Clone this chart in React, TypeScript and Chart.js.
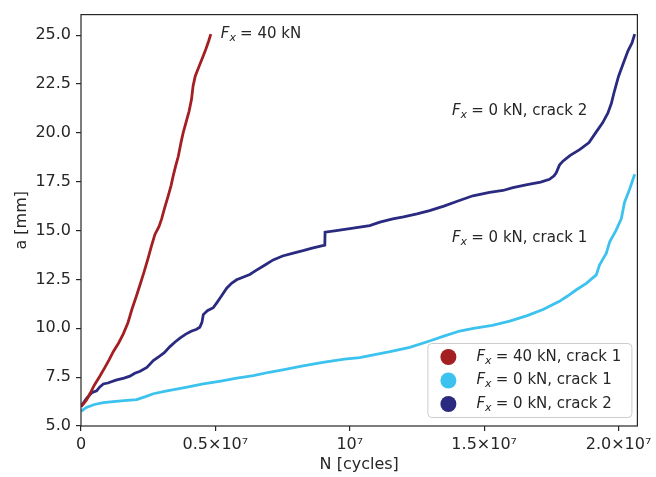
import React, { useEffect, useRef } from "react";
import { Chart, registerables } from "chart.js";
Chart.register(...registerables);

// N in millions of cycles, a in mm
const N_40KN_C1 = [0, 0.1, 0.21, 0.35, 0.5, 0.7, 0.89, 1.05, 1.2, 1.4, 1.57, 1.75, 1.9, 2.05, 2.19, 2.35, 2.5, 2.62, 2.75, 2.9, 3.0, 3.12, 3.25, 3.35, 3.43, 3.52, 3.62, 3.72, 3.8, 3.92, 4.02, 4.11, 4.17, 4.25, 4.35, 4.45, 4.55, 4.65, 4.75, 4.83];
const A_40KN_C1 = [6.0, 6.15, 6.35, 6.7, 7.1, 7.55, 8.0, 8.4, 8.8, 9.25, 9.7, 10.3, 11.0, 11.6, 12.2, 12.9, 13.6, 14.2, 14.8, 15.2, 15.6, 16.2, 16.8, 17.3, 17.8, 18.3, 18.8, 19.5, 20.0, 20.6, 21.1, 21.7, 22.4, 22.9, 23.25, 23.6, 23.95, 24.3, 24.7, 25.05];

const N_0KN_C1 = [0, 0.2, 0.5, 0.83, 1.2, 1.6, 2.07, 2.4, 2.69, 3.2, 3.9, 4.55, 5.2, 5.8, 6.41, 7.0, 7.6, 8.26, 9.0, 9.8, 10.37, 10.74, 11.5, 12.23, 12.97, 13.5, 14.09, 14.6, 15.3, 15.95, 16.6, 17.19, 17.8, 18.1, 18.43, 18.8, 19.17, 19.29, 19.4, 19.54, 19.67, 19.9, 20.1, 20.22, 20.41, 20.6];
const A_0KN_C1 = [5.75, 5.95, 6.1, 6.2, 6.25, 6.3, 6.35, 6.5, 6.65, 6.8, 6.98, 7.15, 7.3, 7.45, 7.58, 7.75, 7.9, 8.08, 8.25, 8.42, 8.5, 8.6, 8.8, 9.02, 9.35, 9.6, 9.86, 10.0, 10.15, 10.37, 10.65, 10.96, 11.38, 11.65, 11.97, 12.3, 12.73, 13.24, 13.5, 13.83, 14.42, 15.0, 15.6, 16.44, 17.11, 17.88];

const N_0KN_C2 = [0, 0.2, 0.4, 0.58, 0.7, 0.83, 1.0, 1.3, 1.6, 1.82, 2.0, 2.2, 2.45, 2.69, 2.9, 3.1, 3.3, 3.5, 3.68, 3.9, 4.1, 4.3, 4.42, 4.5, 4.55, 4.7, 4.92, 5.05, 5.2, 5.42, 5.6, 5.79, 6.0, 6.28, 6.5, 6.8, 7.15, 7.5, 7.9, 8.26, 8.6, 9.07, 9.08, 9.5, 10.0, 10.74, 11.12, 11.6, 12.0, 12.5, 12.97, 13.5, 14.0, 14.58, 15.2, 15.7, 16.07, 16.6, 17.1, 17.43, 17.6, 17.68, 17.8, 17.93, 18.2, 18.55, 18.9, 19.17, 19.4, 19.6, 19.73, 19.82, 19.92, 20.0, 20.16, 20.35, 20.5, 20.6];
const A_0KN_C2 = [6.0, 6.4, 6.7, 6.8, 7.0, 7.15, 7.2, 7.35, 7.45, 7.55, 7.7, 7.8, 8.0, 8.35, 8.55, 8.75, 9.05, 9.3, 9.5, 9.7, 9.85, 9.95, 10.05, 10.3, 10.7, 10.9, 11.05, 11.3, 11.6, 12.05, 12.3, 12.48, 12.6, 12.75, 12.95, 13.2, 13.5, 13.7, 13.85, 13.97, 14.1, 14.25, 14.92, 15.0, 15.1, 15.25, 15.43, 15.6, 15.7, 15.85, 16.02, 16.25, 16.5, 16.78, 16.95, 17.05, 17.2, 17.35, 17.48, 17.62, 17.8, 17.96, 18.35, 18.55, 18.85, 19.14, 19.5, 20.05, 20.5, 21.0, 21.5, 22.0, 22.5, 22.9, 23.5, 24.2, 24.6, 25.05];

const SERIES_LABELS = ["= 40 kN, crack 1", "= 0 kN, crack 1", "= 0 kN, crack 2"];
const SERIES_COLORS = ["#a31f22", "#3cc2ee", "#2a2a80"];

const X_TICKS = [0, 5e6, 1e7, 1.5e7, 2e7];
const X_TICK_LABELS = ["0", "0.5×10⁷", "10⁷", "1.5×10⁷", "2.0×10⁷"];
const Y_TICKS = [5, 7.5, 10, 12.5, 15, 17.5, 20, 22.5, 25];

const ANNOTATIONS = [
  { text: "= 40 kN", n: 5.2e6, a: 25.05 },
  { text: "= 0 kN, crack 2", n: 13.8e6, a: 21.1 },
  { text: "= 0 kN, crack 1", n: 13.8e6, a: 14.6 },
];

const FONT = '"DejaVu Sans", sans-serif';
const TEXT_COLOR = "#262626";

function drawFx(ctx: CanvasRenderingContext2D, x: number, y: number, rest: string, size: number) {
  ctx.textBaseline = "middle";
  ctx.textAlign = "left";
  ctx.fillStyle = TEXT_COLOR;
  ctx.font = `italic ${size}px ${FONT}`;
  ctx.fillText("F", x, y);
  let cx = x + ctx.measureText("F").width;
  ctx.font = `italic ${Math.round(size * 0.7)}px ${FONT}`;
  ctx.fillText("x", cx, y + size * 0.25);
  cx += ctx.measureText("x").width + size * 0.28;
  ctx.font = `${size}px ${FONT}`;
  ctx.fillText(rest, cx, y);
}

const overlay = {
  id: "overlay",
  afterDraw(chart: any) {
    const { ctx, chartArea } = chart;
    const { left, right, top, bottom } = chartArea;
    const xs = chart.scales.x;
    const ys = chart.scales.y;
    ctx.save();
    // frame
    ctx.strokeStyle = TEXT_COLOR;
    ctx.lineWidth = 1.2;
    ctx.strokeRect(left, top, right - left, bottom - top);

    // annotations
    ANNOTATIONS.forEach((an) => {
      drawFx(ctx, xs.getPixelForValue(an.n), ys.getPixelForValue(an.a), an.text, 15);
    });

    // legend
    const lx = right - 210, ly = bottom - 83, lw = 204, lh = 74;
    ctx.beginPath();
    (ctx as any).roundRect(lx + 0.5, ly + 0.5, lw, lh, 4);
    ctx.fillStyle = "rgba(255,255,255,0.8)";
    ctx.fill();
    ctx.strokeStyle = "#cccccc";
    ctx.lineWidth = 1;
    ctx.stroke();
    SERIES_LABELS.forEach((lab, i) => {
      const cy = ly + 14 + i * 23.5;
      ctx.beginPath();
      ctx.arc(lx + 21, cy, 8, 0, Math.PI * 2);
      ctx.fillStyle = SERIES_COLORS[i];
      ctx.fill();
      drawFx(ctx, lx + 49, cy, lab, 15);
    });
    ctx.restore();
  },
};

function mk(ns: number[], as: number[]) {
  return ns.map((n, i) => ({ x: n * 1e6, y: as[i] }));
}

export default function App() {
  const ref = useRef<HTMLCanvasElement>(null);
  useEffect(() => {
    if (!ref.current) return;
    Chart.defaults.font.family = FONT;
    const chart = new Chart(ref.current, {
      type: "scatter",
      data: {
        datasets: [
          { label: SERIES_LABELS[0], data: mk(N_40KN_C1, A_40KN_C1), borderColor: SERIES_COLORS[0], backgroundColor: SERIES_COLORS[0] },
          { label: SERIES_LABELS[1], data: mk(N_0KN_C1, A_0KN_C1), borderColor: SERIES_COLORS[1], backgroundColor: SERIES_COLORS[1] },
          { label: SERIES_LABELS[2], data: mk(N_0KN_C2, A_0KN_C2), borderColor: SERIES_COLORS[2], backgroundColor: SERIES_COLORS[2] },
        ].map((d) => ({ ...d, showLine: true, pointRadius: 0, borderWidth: 2.8, tension: 0 })),
      },
      options: {
        animation: false,
        responsive: false,
        layout: { padding: { left: 0, top: 10, right: 18, bottom: 0 } },
        plugins: { legend: { display: false }, tooltip: { enabled: false } },
        scales: {
          x: {
            type: "linear",
            min: 0,
            max: 2.07e7,
            afterBuildTicks: (s: any) => { s.ticks = X_TICKS.map((v) => ({ value: v })); },
            afterFit: (s: any) => { s.height = 51; },
            ticks: {
              color: TEXT_COLOR,
              font: { size: 16 },
              padding: 4,
              maxRotation: 0,
              autoSkip: false,
              callback: (v: any) => { const i = X_TICKS.indexOf(Number(v)); return i >= 0 ? X_TICK_LABELS[i] : ""; },
            },
            grid: { display: true, drawOnChartArea: false, drawTicks: true, tickLength: 5, color: TEXT_COLOR, lineWidth: 1.2 },
            border: { display: false },
            title: { display: true, text: "N [cycles]", color: TEXT_COLOR, font: { size: 16 }, padding: { top: 0, bottom: 3 } },
          },
          y: {
            type: "linear",
            min: 5,
            max: 26.05,
            afterBuildTicks: (s: any) => { s.ticks = Y_TICKS.map((v) => ({ value: v })); },
            afterFit: (s: any) => { s.width = 81; },
            ticks: {
              color: TEXT_COLOR,
              font: { size: 16 },
              padding: 5,
              autoSkip: false,
              callback: (v: any) => Number(v).toFixed(1),
            },
            grid: { display: true, drawOnChartArea: false, drawTicks: true, tickLength: 5, color: TEXT_COLOR, lineWidth: 1.2 },
            border: { display: false },
            title: { display: true, text: "a [mm]", color: TEXT_COLOR, font: { size: 16 }, padding: { top: 12, bottom: 0 } },
          },
        },
      },
      plugins: [overlay],
    } as any);
    return () => chart.destroy();
  }, []);
  return (
    <div style={{ position: "fixed", left: 0, top: 0, width: 656, height: 477, background: "#fff" }}>
      <canvas ref={ref} width={656} height={477} style={{ width: 656, height: 477, display: "block" }} />
    </div>
  );
}
